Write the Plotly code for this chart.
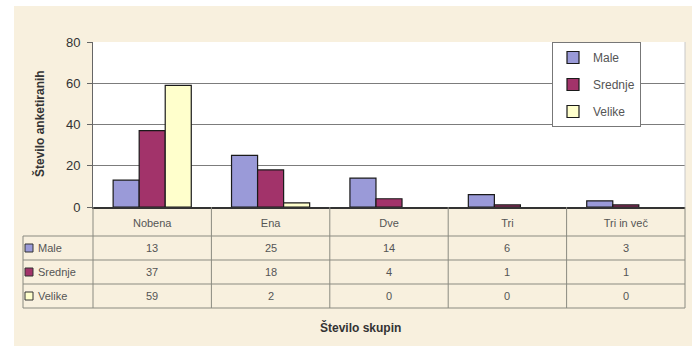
import plotly.graph_objects as go

# Survey data: number of respondents per number of groups, by company size
categories = ["Nobena", "Ena", "Dve", "Tri", "Tri in več"]
series_names = ["Male", "Srednje", "Velike"]
male = [13, 25, 14, 6, 3]
srednje = [37, 18, 4, 1, 1]
velike = [59, 2, 0, 0, 0]
y_ticks = [0, 20, 40, 60, 80]

series_values = [male, srednje, velike]
series_colors = ["#9a9ad8", "#a2336a", "#ffffcc"]

W, H = 696, 346
L, R, T, B = 93, 11, 42, 139
PW, PH = W - L - R, H - T - B
FONT = "Liberation Sans, Arial, sans-serif"


def xp(px):
    return (px - L) / PW


def yp(py):
    return (T + PH - py) / PH


fig = go.Figure()
for i, (name, vals, col) in enumerate(zip(series_names, series_values, series_colors)):
    # empty bars get no outline so nothing is drawn for a zero count
    outline = [1.2 if v > 0 else 0 for v in vals]
    fig.add_trace(go.Bar(
        x=categories, y=vals, name=name,
        marker=dict(color=col, line=dict(color="#1a1a1a", width=outline)),
        legendgroup=name,
    ))

shapes = [
    # cream page background and white plotting area
    dict(type="rect", xref="paper", yref="paper", x0=xp(14), x1=xp(692), y0=yp(6), y1=yp(346),
         fillcolor="#f8f0de", line=dict(width=0), layer="below"),
    dict(type="rect", xref="paper", yref="paper", x0=0, x1=1, y0=0, y1=1,
         fillcolor="#ffffff", line=dict(width=0), layer="below"),
]

grid_col = "#7c7c7c"
table_line = "#8a8a80"
# data table under the axis: horizontal rules
row_lines = [236, 260, 284, 308]
for k, py in enumerate(row_lines):
    shapes.append(dict(type="line", xref="paper", yref="paper", x0=xp(23), x1=1,
                       y0=yp(py), y1=yp(py), line=dict(color=table_line, width=1)))
# vertical rules
shapes.append(dict(type="line", xref="paper", yref="paper", x0=xp(23), x1=xp(23),
                   y0=yp(236), y1=yp(308), line=dict(color=table_line, width=1)))
shapes.append(dict(type="line", xref="paper", yref="paper", x0=0, x1=0,
                   y0=0, y1=yp(308), line=dict(color=table_line, width=1)))
shapes.append(dict(type="line", xref="paper", yref="paper", x0=1, x1=1,
                   y0=0, y1=yp(308), line=dict(color=table_line, width=1)))
for i in range(len(categories) - 1):
    shapes.append(dict(type="line", xref="x", yref="paper", x0=i + 0.5, x1=i + 0.5,
                       y0=0, y1=yp(308), line=dict(color=table_line, width=1)))
# right border of the plotting area
shapes.append(dict(type="line", xref="paper", yref="paper", x0=1, x1=1,
                   y0=0, y1=1, line=dict(color="#c8c8c8", width=1)))

annotations = []
row_centers = [248, 272, 296]
for name, vals, col, cy in zip(series_names, series_values, series_colors, row_centers):
    # legend key in the first column
    shapes.append(dict(type="rect", xref="paper", yref="paper",
                       x0=xp(25), x1=xp(33), y0=yp(cy + 4), y1=yp(cy - 4),
                       fillcolor=col, line=dict(color="#333333", width=1)))
    annotations.append(dict(xref="paper", yref="paper", x=xp(36), y=yp(cy), text=name,
                            showarrow=False, xanchor="left", yanchor="middle",
                            font=dict(family=FONT, size=11, color="#555555")))
    for cat, v in zip(categories, vals):
        annotations.append(dict(xref="x", yref="paper", x=cat, y=yp(cy), text=str(v),
                                showarrow=False, xanchor="center", yanchor="middle",
                                font=dict(family=FONT, size=11, color="#555555")))

annotations.append(dict(xref="paper", yref="paper", x=xp(39), y=yp(124),
                        text="<b>Število anketiranih</b>", textangle=-90, showarrow=False,
                        xanchor="center", yanchor="middle",
                        font=dict(family=FONT, size=12, color="#333333")))
annotations.append(dict(xref="paper", yref="paper", x=xp(360), y=yp(327),
                        text="<b>Število skupin</b>", showarrow=False,
                        xanchor="center", yanchor="middle",
                        font=dict(family=FONT, size=12, color="#333333")))

fig.update_layout(
    width=W, height=H,
    margin=dict(l=L, r=R, t=T, b=B),
    paper_bgcolor="#ffffff",
    plot_bgcolor="rgba(0,0,0,0)",
    font=dict(family=FONT, size=12, color="#333333"),
    barmode="group", bargap=0.34, bargroupgap=0,
    showlegend=True,
    legend=dict(x=xp(552), y=1, xanchor="left", yanchor="top",
                bgcolor="#ffffff", bordercolor="#777777", borderwidth=1,
                font=dict(family=FONT, size=12, color="#555555"),
                traceorder="grouped", tracegroupgap=8),
    shapes=shapes,
    annotations=annotations,
)
fig.update_xaxes(range=[-0.5, len(categories) - 0.5], showline=True, linecolor="#333333",
                 linewidth=1.5, ticks="", showgrid=False, zeroline=False,
                 tickfont=dict(family=FONT, size=11, color="#555555"), ticklabelstandoff=5)
fig.update_yaxes(range=[0, 80], tickvals=y_ticks, showgrid=True, gridcolor=grid_col,
                 gridwidth=1, showline=True, linecolor="#666666", linewidth=1,
                 ticks="outside", ticklen=5, tickcolor="#666666", zeroline=False,
                 tickfont=dict(family=FONT, size=13, color="#333333"), ticklabelstandoff=4)

fig.write_html("out.html")
